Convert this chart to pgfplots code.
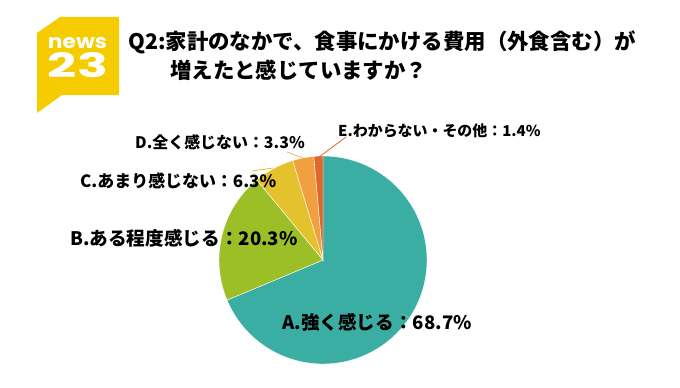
\documentclass[border=0pt]{standalone}
\usepackage{pgfplots}
\pgfplotsset{compat=1.18}
\usepackage{pgfplotstable}
\usepackage{fontspec}
\setmainfont{Liberation Sans}
\newfontfamily\jp{Noto Sans CJK JP}
\newfontfamily\logofont{Poppins}

\definecolor{cA}{HTML}{3AAEA3}
\definecolor{cB}{HTML}{9CBE26}
\definecolor{cC}{HTML}{E4C22E}
\definecolor{cD}{HTML}{F0A03E}
\definecolor{cE}{HTML}{E0672C}
\definecolor{logoY}{HTML}{F5CC00}

\pgfplotstableread{
cat value
A 68.7
B 20.3
C 6.3
D 3.3
E 1.4
}\piedata

\begin{document}
\begin{tikzpicture}
\pgfplotstablegetelem{0}{value}\of\piedata \pgfmathsetmacro\vA{\pgfplotsretval}
\pgfplotstablegetelem{1}{value}\of\piedata \pgfmathsetmacro\vB{\pgfplotsretval}
\pgfplotstablegetelem{2}{value}\of\piedata \pgfmathsetmacro\vC{\pgfplotsretval}
\pgfplotstablegetelem{3}{value}\of\piedata \pgfmathsetmacro\vD{\pgfplotsretval}
\pgfplotstablegetelem{4}{value}\of\piedata \pgfmathsetmacro\vE{\pgfplotsretval}
\pgfmathsetmacro\aA{90-3.6*\vA}
\pgfmathsetmacro\aB{\aA-3.6*\vB}
\pgfmathsetmacro\aC{\aB-3.6*\vC}
\pgfmathsetmacro\aD{\aC-3.6*\vD}
\pgfmathsetmacro\aE{\aD-3.6*\vE}
\begin{axis}[width=680bp,height=387bp,scale only axis,
  xmin=0,xmax=680,ymin=0,ymax=387,y dir=reverse,hide axis,clip=false]
\path (axis cs:0,0) rectangle (axis cs:680,387);
% logo
\fill[logoY] (axis cs:60,17) -- (axis cs:119,17) -- (axis cs:119,95) -- (axis cs:62,95)
  -- (axis cs:37,113) -- (axis cs:37,33) -- cycle;
\node[white,inner sep=0pt] at (axis cs:77.5,43) {\resizebox{59bp}{11bp}{\logofont\bfseries news}};
\node[white,inner sep=0pt] at (axis cs:78,65.5) {\resizebox{60bp}{25bp}{\logofont\bfseries 23}};
% title
\node[anchor=west,inner sep=0pt,font=\jp\bfseries\fontsize{21.5}{21.5}\selectfont] at (axis cs:128,42)
  {Q2:家計のなかで、食事にかける費用（外食含む）が};
\node[anchor=west,inner sep=0pt,font=\jp\bfseries\fontsize{21.5}{21.5}\selectfont] at (axis cs:170,70)
  {増えたと感じていますか？};
% pie
\fill[cA,draw=white,line width=0.4pt] (axis cs:323,260) -- ++(90:104bp) arc[start angle=90,end angle=\aA,radius=104bp] -- cycle;
\fill[cB,draw=white,line width=0.4pt] (axis cs:323,260) -- ++(\aA:104bp) arc[start angle=\aA,end angle=\aB,radius=104bp] -- cycle;
\fill[cC,draw=white,line width=0.4pt] (axis cs:323,260) -- ++(\aB:104bp) arc[start angle=\aB,end angle=\aC,radius=104bp] -- cycle;
\fill[cD,draw=white,line width=0.4pt] (axis cs:323,260) -- ++(\aC:104bp) arc[start angle=\aC,end angle=\aD,radius=104bp] -- cycle;
\fill[cE,draw=white,line width=0.4pt] (axis cs:323,260) -- ++(\aD:104bp) arc[start angle=\aD,end angle=\aE,radius=104bp] -- cycle;
% leader lines
\draw[cE,line width=0.8pt] (axis cs:319,157) -- (axis cs:346,137);
\draw[cD!80,line width=0.8pt] (axis cs:303,158) -- (axis cs:287,152);
\draw[cC,line width=0.8pt] (axis cs:273,168) -- (axis cs:252,171);
\draw[cA!70,line width=0.8pt] (axis cs:402,314) -- (axis cs:409,318);
% labels
\node[anchor=west,inner sep=0pt,font=\jp\bfseries\fontsize{15}{15}\selectfont] at (axis cs:338,131) {E.わからない・その他：1.4\%};
\node[anchor=west,inner sep=0pt,font=\jp\bfseries\fontsize{16}{16}\selectfont] at (axis cs:135,142) {D.全く感じない：3.3\%};
\node[anchor=west,inner sep=0pt,font=\jp\bfseries\fontsize{17}{17}\selectfont] at (axis cs:80,181) {C.あまり感じない：6.3\%};
\node[anchor=west,inner sep=0pt,font=\jp\bfseries\fontsize{18.7}{18.7}\selectfont] at (axis cs:70,238) {B.ある程度感じる：20.3\%};
\node[anchor=west,inner sep=0pt,font=\jp\bfseries\fontsize{18.7}{18.7}\selectfont] at (axis cs:282,322) {A.強く感じる：68.7\%};
\end{axis}
\end{tikzpicture}
\end{document}
